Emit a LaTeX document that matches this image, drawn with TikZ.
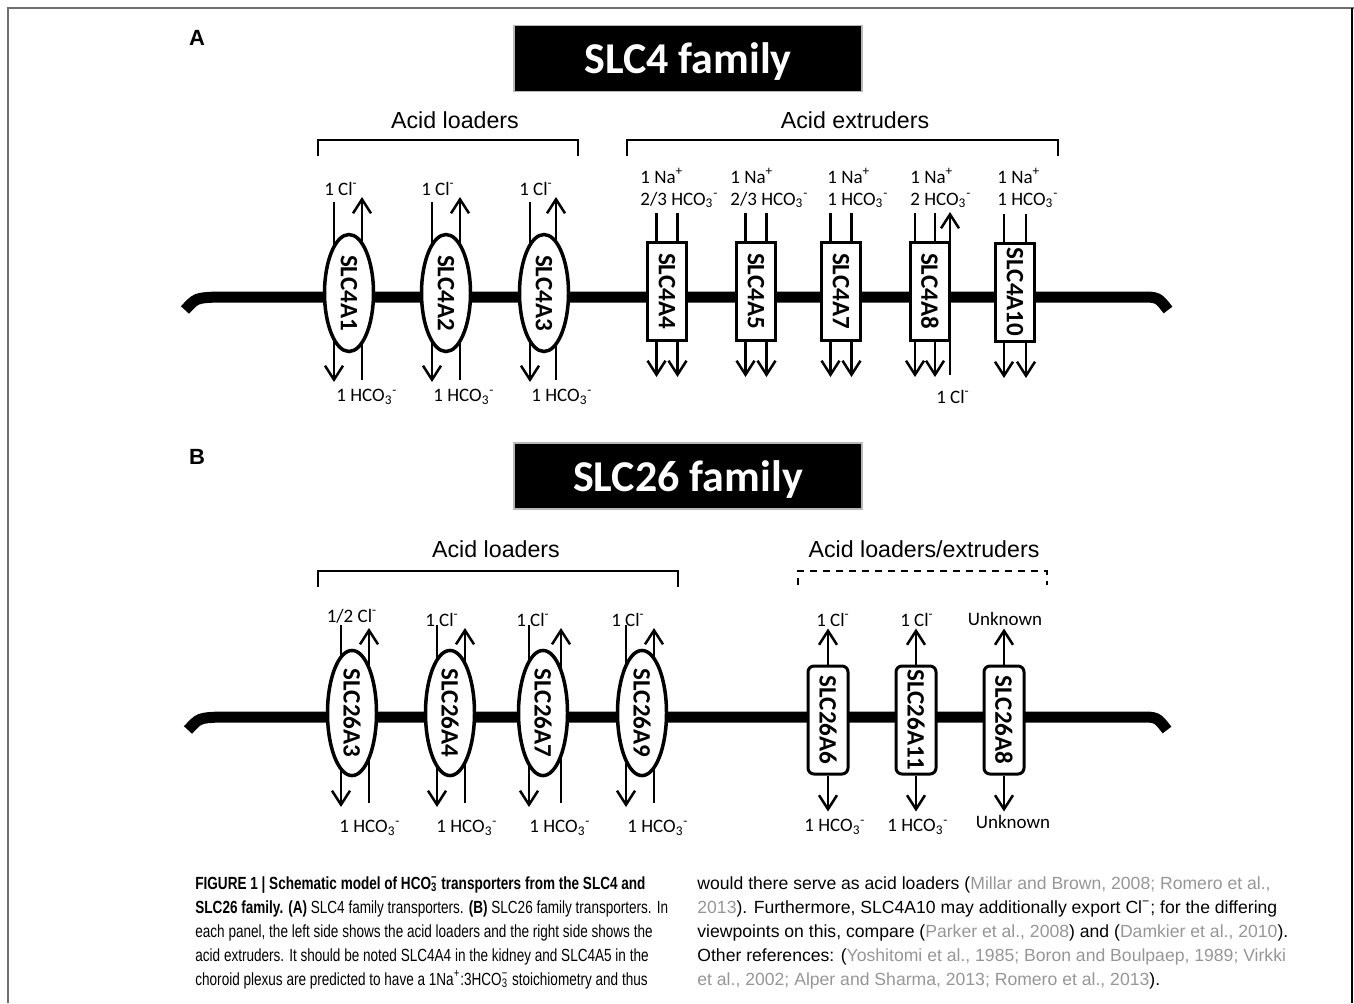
\documentclass[tikz,border=0pt]{standalone}
\usepackage{fontspec}
\setmainfont{Carlito}
\newfontfamily\headfont{Liberation Sans}
\newfontfamily\capleft[FakeStretch=0.77]{Liberation Sans}
\newfontfamily\capright{Liberation Sans}
\usetikzlibrary{shapes.geometric,arrows.meta,calc,backgrounds}

\definecolor{refgray}{RGB}{150,150,150}
\definecolor{framegray}{RGB}{110,110,110}
\newcommand\hco{HCO\textsubscript{3}\textsuperscript{-}}
\newcommand\caphco{HCO\rlap{\textsubscript{3}}\textsuperscript{−}}
\newcommand\refs[1]{\textcolor{refgray}{#1}}

\tikzset{
  ovaltr/.style={ellipse, draw, line width=1.75pt, fill=white, rotate=-90, minimum width=58.5pt, minimum height=24.5pt, inner sep=0pt, font=\bfseries\fontsize{12.5}{13}\selectfont},
  boxtr/.style={rectangle, draw, line width=1.5pt, fill=white, rotate=-90, minimum width=49pt, minimum height=19.5pt, inner sep=0pt, font=\bfseries\fontsize{12.5}{13}\selectfont},
  rboxtr/.style={boxtr, rounded corners=3pt, minimum width=54pt, minimum height=20pt},
  flux/.style={line width=1.25pt},
  fluxtip/.style={flux, -{Straight Barb[length=7pt,width=9pt]}},
  ionlbl/.style={inner sep=0pt, font=\fontsize{9.5}{11}\selectfont},
  grouplbl/.style={inner sep=0pt, font=\headfont\fontsize{11.6}{13}\selectfont},
  panellbl/.style={inner sep=0pt, font=\headfont\bfseries\fontsize{11}{12}\selectfont},
  fambox/.style={fill=black, draw=gray!55, line width=0.8pt, minimum width=174pt, minimum height=33pt, text depth=0pt, text=white, font=\bfseries\fontsize{22}{24}\selectfont},
  bracket/.style={line width=1pt},
  membrane/.style={line width=5.5pt},
}

\begin{document}
\begin{tikzpicture}[x=0.5pt,y=-0.5pt]
  \useasboundingbox (0,0) rectangle (1354,1003);
  % frame
  \draw[framegray, line width=1pt] (8,1003) -- (8,8) -- (1354,8);
  \draw[line width=1pt] (1352,8) -- (1352,1003);

  % ---- panel A
  \node[panellbl] (pa) at (197,38) {A};
  \node[fambox] (slc4) at (688,58.5) {SLC4 family};
  \node[grouplbl] (aload) at (455,120) {Acid loaders};
  \node[grouplbl] (aextr) at (855,120) {Acid extruders};
  \draw[bracket] (318,156) -- (318,140) -- (578,140) -- (578,156);
  \draw[bracket] (627,156) -- (627,140) -- (1058,140) -- (1058,156);

  \node[ovaltr] (s4a1) at (349,293) {SLC4A1};
  \node[ovaltr] (s4a2) at (446,293) {SLC4A2};
  \node[ovaltr] (s4a3) at (544,293) {SLC4A3};
  \node[ionlbl] (s4a1cl) at (341,189) {1 Cl\textsuperscript{-}};
  \node[ionlbl] (s4a2cl) at (438,189) {1 Cl\textsuperscript{-}};
  \node[ionlbl] (s4a3cl) at (536,189) {1 Cl\textsuperscript{-}};
  \node[ionlbl] (s4a1hc) at (367,397) {1 \hco};
  \node[ionlbl] (s4a2hc) at (464,397) {1 \hco};
  \node[ionlbl] (s4a3hc) at (562,397) {1 \hco};

  \node[boxtr] (s4a4) at (667,291) {SLC4A4};
  \node[boxtr] (s4a5) at (756,291) {SLC4A5};
  \node[boxtr] (s4a7) at (841,291) {SLC4A7};
  \node[boxtr] (s4a8) at (930,291) {SLC4A8};
  \node[boxtr] (s4a10) at (1015,292) {SLC4A10};
  \node[ionlbl, anchor=north west, align=left] (s4a4na) at (640,168) {1 Na\textsuperscript{+}\\2/3 \hco};
  \node[ionlbl, anchor=north west, align=left] (s4a5na) at (730,168) {1 Na\textsuperscript{+}\\2/3 \hco};
  \node[ionlbl, anchor=north west, align=left] (s4a7na) at (827,168) {1 Na\textsuperscript{+}\\1 \hco};
  \node[ionlbl, anchor=north west, align=left] (s4a8na) at (910,168) {1 Na\textsuperscript{+}\\2 \hco};
  \node[ionlbl, anchor=north west, align=left] (s4a10na) at (997,168) {1 Na\textsuperscript{+}\\1 \hco};
  \node[ionlbl] (s4a8cl) at (953,397) {1 Cl\textsuperscript{-}};

  % ---- panel B
  \node[panellbl] (pb) at (197,457) {B};
  \node[fambox] (slc26) at (688,476) {SLC26 family};
  \node[grouplbl] (bload) at (496,549) {Acid loaders};
  \node[grouplbl] (bboth) at (924,549) {Acid loaders/extruders};
  \draw[bracket] (318,587) -- (318,571) -- (678,571) -- (678,587);
  \draw[bracket, dash pattern=on 3.5pt off 3pt] (798,585) -- (798,571) -- (1047,571) -- (1047,585);

  \node[ovaltr] (s26a3) at (352,713) {SLC26A3};
  \node[ovaltr] (s26a4) at (450,713) {SLC26A4};
  \node[ovaltr] (s26a7) at (543,713) {SLC26A7};
  \node[ovaltr] (s26a9) at (642,713) {SLC26A9};
  \node[ionlbl] (s26a3cl) at (352,616) {1/2 Cl\textsuperscript{-}};
  \node[ionlbl] (s26a4cl) at (442,620) {1 Cl\textsuperscript{-}};
  \node[ionlbl] (s26a7cl) at (533,620) {1 Cl\textsuperscript{-}};
  \node[ionlbl] (s26a9cl) at (628,620) {1 Cl\textsuperscript{-}};
  \node[ionlbl] (s26a3hc) at (370,828) {1 \hco};
  \node[ionlbl] (s26a4hc) at (467,828) {1 \hco};
  \node[ionlbl] (s26a7hc) at (560,828) {1 \hco};
  \node[ionlbl] (s26a9hc) at (658,828) {1 \hco};

  \node[rboxtr] (s26a6) at (828,720) {SLC26A6};
  \node[rboxtr] (s26a11) at (916,720) {SLC26A11};
  \node[rboxtr] (s26a8) at (1004,720) {SLC26A8};
  \node[ionlbl] (s26a6cl) at (833,620) {1 Cl\textsuperscript{-}};
  \node[ionlbl] (s26a11cl) at (917,620) {1 Cl\textsuperscript{-}};
  \node[ionlbl] (s26a8up) at (1005,619) {Unknown};
  \node[ionlbl] (s26a6hc) at (835,827) {1 \hco};
  \node[ionlbl] (s26a11hc) at (918,827) {1 \hco};
  \node[ionlbl] (s26a8dn) at (1013,822) {Unknown};

  \begin{scope}[on background layer]
    % membranes
    \draw[membrane] (185,310) .. controls (196,298) .. (216,297) -- (1140,297) .. controls (1158,297) .. (1168,310);
    \draw[membrane] (188,730) .. controls (199,718) .. (219,717) -- (1140,717) .. controls (1157,717) .. (1167,730);
    % SLC4 anion exchangers
    \draw[fluxtip] ($(s4a1)+(-15,-91)$) -- ($(s4a1)+(-15,89)$);
    \draw[fluxtip] ($(s4a1)+(13,87)$) -- ($(s4a1)+(13,-96)$);
    \draw[fluxtip] ($(s4a2)+(-14,-91)$) -- ($(s4a2)+(-14,89)$);
    \draw[fluxtip] ($(s4a2)+(14,87)$) -- ($(s4a2)+(14,-96)$);
    \draw[fluxtip] ($(s4a3)+(-14,-91)$) -- ($(s4a3)+(-14,89)$);
    \draw[fluxtip] ($(s4a3)+(12,87)$) -- ($(s4a3)+(12,-96)$);
    % SLC4 Na-coupled
    \draw[fluxtip] ($(s4a4)+(-10.5,-78)$) -- ($(s4a4)+(-10.5,86)$);
    \draw[fluxtip] ($(s4a4)+(10.5,-78)$) -- ($(s4a4)+(10.5,86)$);
    \draw[fluxtip] ($(s4a5)+(-10.5,-78)$) -- ($(s4a5)+(-10.5,86)$);
    \draw[fluxtip] ($(s4a5)+(10.5,-78)$) -- ($(s4a5)+(10.5,86)$);
    \draw[fluxtip] ($(s4a7)+(-10.5,-78)$) -- ($(s4a7)+(-10.5,86)$);
    \draw[fluxtip] ($(s4a7)+(10.5,-78)$) -- ($(s4a7)+(10.5,86)$);
    \draw[fluxtip] ($(s4a8)+(-15,-78)$) -- ($(s4a8)+(-15,86)$);
    \draw[fluxtip] ($(s4a8)+(5,-78)$) -- ($(s4a8)+(5,86)$);
    \draw[fluxtip] ($(s4a8)+(20,84)$) -- ($(s4a8)+(20,-79)$);
    \draw[fluxtip] ($(s4a10)+(-11,-78)$) -- ($(s4a10)+(-11,86)$);
    \draw[fluxtip] ($(s4a10)+(11,-78)$) -- ($(s4a10)+(11,86)$);
    % SLC26 loaders
    \draw[fluxtip] ($(s26a3)+(-11,-88)$) -- ($(s26a3)+(-11,94)$);
    \draw[fluxtip] ($(s26a3)+(17,90)$) -- ($(s26a3)+(17,-85)$);
    \draw[fluxtip] ($(s26a4)+(-13,-88)$) -- ($(s26a4)+(-13,94)$);
    \draw[fluxtip] ($(s26a4)+(15,90)$) -- ($(s26a4)+(15,-85)$);
    \draw[fluxtip] ($(s26a7)+(-14,-88)$) -- ($(s26a7)+(-14,94)$);
    \draw[fluxtip] ($(s26a7)+(18,90)$) -- ($(s26a7)+(18,-85)$);
    \draw[fluxtip] ($(s26a9)+(-16,-88)$) -- ($(s26a9)+(-16,94)$);
    \draw[fluxtip] ($(s26a9)+(12,90)$) -- ($(s26a9)+(12,-85)$);
  \end{scope}
  % SLC26 loaders/extruders
  \draw[fluxtip] (s26a6.west) -- ++(0,-36);
  \draw[fluxtip] (s26a6.east) -- ++(0,36);
  \draw[fluxtip] (s26a11.west) -- ++(0,-36);
  \draw[fluxtip] (s26a11.east) -- ++(0,36);
  \draw[fluxtip] (s26a8.west) -- ++(0,-36);
  \draw[fluxtip] (s26a8.east) -- ++(0,36);

  % ---- caption
  \node[anchor=north west, inner sep=0pt, align=left, font=\capleft\fontsize{8.8}{12}\selectfont] (capl) at (195,876)
    {\textbf{FIGURE 1 | Schematic model of \caphco\ transporters from the SLC4 and}\\
     \textbf{SLC26 family. (A)} SLC4 family transporters. \textbf{(B)} SLC26 family transporters. In\\
     each panel, the left side shows the acid loaders and the right side shows the\\
     acid extruders. It should be noted SLC4A4 in the kidney and SLC4A5 in the\\
     choroid plexus are predicted to have a 1Na\textsuperscript{+}:3\caphco\ stoichiometry and thus};
  \node[anchor=north west, inner sep=0pt, align=left, font=\capright\fontsize{8.8}{12}\selectfont] (capr) at (697,876)
    {would there serve as acid loaders (\refs{Millar and Brown, 2008; Romero et al.,}\\
     \refs{2013}). Furthermore, SLC4A10 may additionally export Cl\textsuperscript{−}; for the differing\\
     viewpoints on this, compare (\refs{Parker et al., 2008}) and (\refs{Damkier et al., 2010}).\\
     Other references: (\refs{Yoshitomi et al., 1985; Boron and Boulpaep, 1989; Virkki}\\
     \refs{et al., 2002; Alper and Sharma, 2013; Romero et al., 2013}).};
\end{tikzpicture}
\end{document}
